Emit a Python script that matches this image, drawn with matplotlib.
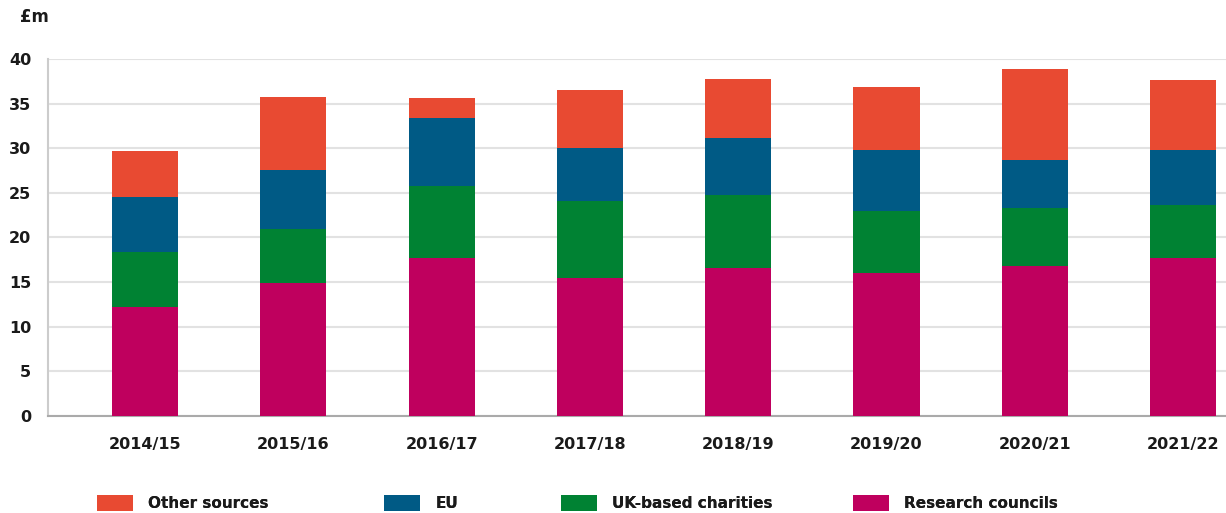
import numpy as np
import matplotlib
matplotlib.use("Agg")
import matplotlib.pyplot as plt

# Data (£m)
years = ['2014/15', '2015/16', '2016/17', '2017/18', '2018/19', '2019/20', '2020/21', '2021/22']
research_councils = [12.2, 14.9, 17.7, 15.5, 16.6, 16.0, 16.8, 17.7]
uk_charities = [6.2, 6.0, 8.1, 8.6, 8.2, 7.0, 6.5, 5.9]
eu = [6.1, 6.7, 7.6, 5.9, 6.3, 6.8, 5.4, 6.2]
other_sources = [5.2, 8.1, 2.2, 6.5, 6.7, 7.1, 10.2, 7.9]

c_other = '#E84A32'
c_eu = '#005A85'
c_char = '#008233'
c_res = '#BF005E'

plt.rcParams['font.family'] = ['DejaVu Sans']

fig = plt.figure(figsize=(12.26, 5.13), dpi=100)
ax = fig.add_axes([48/1226, 97/513, 1 - 48/1226, (416-59)/513])

x = np.arange(len(years))
w = 0.446
rc = np.array(research_councils)
ch = np.array(uk_charities)
e = np.array(eu)
ot = np.array(other_sources)

b_res = ax.bar(x, rc, w, color=c_res, zorder=3)
b_ch = ax.bar(x, ch, w, bottom=rc, color=c_char, zorder=3)
b_eu = ax.bar(x, e, w, bottom=rc + ch, color=c_eu, zorder=3)
b_ot = ax.bar(x, ot, w, bottom=rc + ch + e, color=c_other, zorder=3)

ax.set_xlim(-0.655, 7.29)
ax.set_ylim(0, 40)
ax.set_yticks(range(0, 41, 5))
ax.set_xticks(x)
ax.set_xticklabels(years)
ax.tick_params(axis='both', length=0, labelsize=11.5, colors='#1a1a1a')
ax.tick_params(axis='x', pad=15)
ax.tick_params(axis='y', pad=12)
for lbl in ax.get_xticklabels() + ax.get_yticklabels():
    lbl.set_fontweight('bold')

ax.grid(axis='y', color='#e2e2e2', linewidth=1.5, zorder=0)
ax.set_axisbelow(True)
for s in ['top', 'right']:
    ax.spines[s].set_visible(False)
ax.spines['left'].set_color('#cccccc')
ax.spines['left'].set_linewidth(1.5)
ax.spines['bottom'].set_color('#aaaaaa')
ax.spines['bottom'].set_linewidth(1.5)

fig.text(20/1226, 1 - 17/513, '£m', fontsize=12, fontweight='bold', color='#1a1a1a',
         ha='left', va='center')

# Legend entries placed individually, like the original
items = [(b_ot, 'Other sources', 97), (b_eu, 'EU', 384),
         (b_ch, 'UK-based charities', 561), (b_res, 'Research councils', 853)]
for handle, label, px in items:
    leg = fig.legend([handle], [label], loc='center left',
                     bbox_to_anchor=(px/1226, 1 - 503/513), frameon=False,
                     handlelength=2.35, handleheight=1.3, handletextpad=1.0,
                     borderpad=0, borderaxespad=0,
                     prop={'weight': 'bold', 'size': 11})
    for t in leg.get_texts():
        t.set_color('#1a1a1a')
    fig.add_artist(leg)

fig.savefig('out.png', dpi=100)
